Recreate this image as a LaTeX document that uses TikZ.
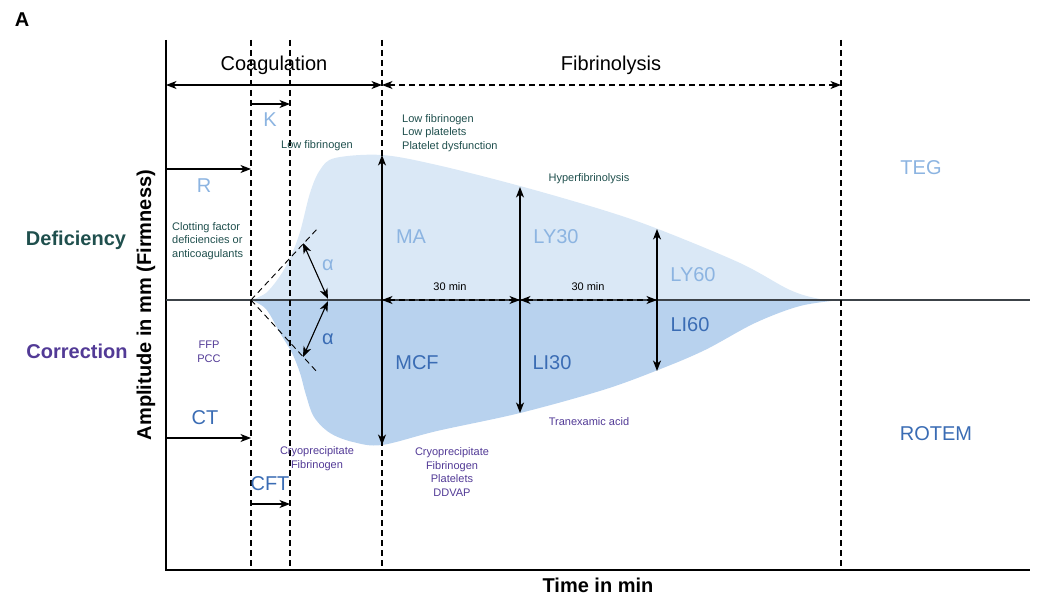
\documentclass[tikz,border=0pt]{standalone}
\usepackage{fontspec}
\setmainfont{Liberation Sans}
\usetikzlibrary{arrows.meta}
\definecolor{tealtxt}{RGB}{31,79,77}
\definecolor{purptxt}{RGB}{82,58,150}
\definecolor{lbluetxt}{RGB}{140,180,225}
\definecolor{dbluetxt}{RGB}{58,108,180}
\definecolor{fillup}{RGB}{218,232,246}
\definecolor{filldn}{RGB}{184,210,238}
\definecolor{zeroline}{RGB}{60,66,72}
\begin{document}
\begin{tikzpicture}[x=1pt,y=-1pt,
  bigtxt/.style={font=\fontsize{20}{24}\selectfont, inner sep=0pt},
  smalltxt/.style={font=\fontsize{11}{13.7}\selectfont, inner sep=0pt},
  boldtxt/.style={font=\fontsize{20}{24}\selectfont\bfseries, inner sep=0pt},
  dline/.style={dash pattern=on 6pt off 4pt, line width=1.1pt},
  tipsty/.tip={Stealth[length=10.5pt,width=8pt,inset=3pt]},
  arr/.style={-tipsty, line width=1.1pt},
  darr/.style={tipsty-tipsty, line width=1.1pt}
]
\useasboundingbox (0,0) rectangle (1051,615);

% coordinates
\coordinate (ytop) at (166,40);
\coordinate (orig) at (166,570);
\coordinate (xend) at (1030,570);
\coordinate (z0) at (166,300);
\coordinate (zend) at (1030,300);
\coordinate (zs) at (251,300);
\foreach \nm/\xx in {dA/251,dB/290,dC/382,dD/841}{
  \coordinate (\nm t) at (\xx,40);
  \coordinate (\nm b) at (\xx,570);
}

% fills
\fill[fillup] plot[smooth,tension=0.55] coordinates {(251,300) (266,293) (280,276) (290,258) (300,232) (310,193) (320,170) (335,158) (382,155) (437,165) (520,186) (603,210) (658,229) (740,263) (790,290) (820,299) (841,300)} -- cycle;
\fill[filldn] plot[smooth,tension=0.55] coordinates {(251,300) (266,309) (280,333) (292,353) (300,373) (306,395) (314,417) (330,433) (353,442) (382,445) (437,431) (520,413) (603,390) (658,370) (705,350) (755,323) (800,306) (841,300)} -- cycle;

% axes
\draw[line width=1.1pt] (ytop) -- (orig) -- (xend);
\draw[zeroline, line width=1.3pt] (z0) -- (zend);

% dashed verticals
\foreach \nm in {dA,dB,dC,dD}{
  \draw[dline] (\nm t) -- (\nm b);
}

% phase arrows
\coordinate (cL) at (166,85);
\coordinate (cR) at (382,85);
\coordinate (fR) at (841,85);
\draw[darr] (cL) -- (cR);
\draw[darr, dline] (cR) -- (fR);
\node[bigtxt] (coag) at (274,65) {Coagulation};
\node[bigtxt] (fibr) at (611,65) {Fibrinolysis};

% K, R, CT, CFT arrows
\coordinate (kL) at (251,104); \coordinate (kR) at (290,104);
\draw[arr] (kL) -- (kR);
\coordinate (rL) at (166,169); \coordinate (rR) at (251,169);
\draw[arr] (rL) -- (rR);
\coordinate (ctL) at (166,438); \coordinate (ctR) at (251,438);
\draw[arr] (ctL) -- (ctR);
\coordinate (cftL) at (251,504); \coordinate (cftR) at (290,504);
\draw[arr] (cftL) -- (cftR);
\node[bigtxt, lbluetxt] (K) at (270,120) {K};
\node[bigtxt, lbluetxt] (R) at (204,186) {R};
\node[bigtxt, dbluetxt] (CT) at (205,418) {CT};
\node[bigtxt, dbluetxt] (CFT) at (270,484) {CFT};

% alpha construction
\coordinate (au) at (318,228);
\coordinate (ad) at (318,373);
\draw[dash pattern=on 6pt off 4pt, line width=0.9pt] (zs) -- (au);
\draw[dash pattern=on 6pt off 4pt, line width=0.9pt] (zs) -- (ad);
\coordinate (a1) at (303,243); \coordinate (a2) at (328,299);
\coordinate (a3) at (328,301); \coordinate (a4) at (303,357);
\draw[darr] (a1) -- (a2);
\draw[darr] (a3) -- (a4);
\node[bigtxt, lbluetxt] (alu) at (328,265) {α};
\node[bigtxt, dbluetxt] (ald) at (328,339) {α};

% vertical amplitude arrows
\coordinate (maT) at (382,155); \coordinate (maB) at (382,445);
\coordinate (l30T) at (520,187); \coordinate (l30B) at (520,413);
\coordinate (l60T) at (657,229); \coordinate (l60B) at (657,371);
\draw[darr] (maT) -- (maB);
\draw[darr] (l30T) -- (l30B);
\draw[darr] (l60T) -- (l60B);

% 30 min arrows
\coordinate (m0) at (382,300); \coordinate (m1) at (520,300); \coordinate (m2) at (657,300);
\draw[darr, dash pattern=on 6pt off 4pt] (m0) -- (m1);
\draw[darr, dash pattern=on 6pt off 4pt] (m1) -- (m2);
\node[smalltxt] (t30a) at (450,287) {30 min};
\node[smalltxt] (t30b) at (588,287) {30 min};

% parameter labels
\node[bigtxt, lbluetxt] (MA) at (411,237) {MA};
\node[bigtxt, lbluetxt] (LY30) at (556,237) {LY30};
\node[bigtxt, lbluetxt] (LY60) at (693,275) {LY60};
\node[bigtxt, dbluetxt] (MCF) at (417,363) {MCF};
\node[bigtxt, dbluetxt] (LI30) at (552,363) {LI30};
\node[bigtxt, dbluetxt] (LI60) at (690,325) {LI60};
\node[bigtxt, lbluetxt] (TEG) at (921,168) {TEG};
\node[bigtxt, dbluetxt] (ROTEM) at (936,434) {ROTEM};

% deficiency texts
\node[smalltxt, tealtxt] (lowfib) at (317,146) {Low fibrinogen};
\node[smalltxt, tealtxt, anchor=west, align=left] (lowplt) at (402,133) {Low fibrinogen\\Low platelets\\Platelet dysfunction};
\node[smalltxt, tealtxt] (hyper) at (589,179) {Hyperfibrinolysis};
\node[smalltxt, tealtxt, anchor=west, align=left] (clot) at (172,241) {Clotting factor\\deficiencies or\\anticoagulants};

% correction texts
\node[smalltxt, purptxt, align=center] (ffp) at (209,352) {FFP\\PCC};
\node[smalltxt, purptxt, align=center] (cryo1) at (317,459) {Cryoprecipitate\\Fibrinogen};
\node[smalltxt, purptxt, align=center] (cryo2) at (452,472) {Cryoprecipitate\\Fibrinogen\\Platelets\\DDVAP};
\node[smalltxt, purptxt] (txa) at (589,422) {Tranexamic acid};

% side labels
\node[boldtxt] (lblA) at (22,20) {A};
\node[boldtxt, tealtxt] (defi) at (76,240) {Deficiency};
\node[boldtxt, purptxt] (corr) at (77,351) {Correction};
\node[boldtxt, rotate=90] (ylab) at (146,305) {Amplitude in mm (Firmness)};
\node[boldtxt] (xlab) at (598,585) {Time in min};
\end{tikzpicture}
\end{document}
